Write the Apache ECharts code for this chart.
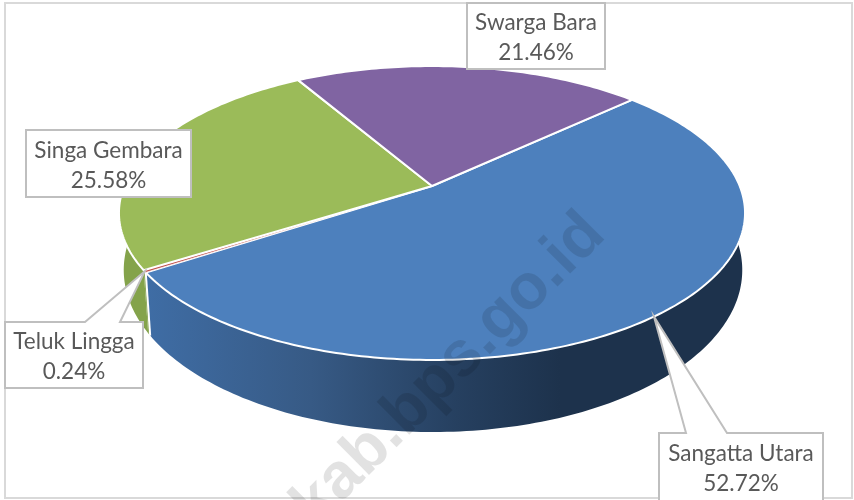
<!DOCTYPE html>
<html><head><meta charset="utf-8">
<style>html,body{margin:0;padding:0;background:#fff}#c{width:854px;height:500px}</style>
<script src="https://cdn.jsdelivr.net/npm/echarts@6/dist/echarts.min.js"></script>
</head><body><div id="c"></div>
<script>
var regions = ['Sangatta Utara', 'Teluk Lingga', 'Singa Gembara', 'Swarga Bara'];
var shares = [52.72, 0.24, 25.58, 21.46];
var topColors = ['#4d80bd', '#c0504d', '#9bbb59', '#8064a2'];
var wallColors = ['#3f6da5', '#84a34b', '#84a34b', '#6b5488'];
var boxes = [
  [659, 433, 823, 506, 686, 727],
  [5, 322, 143, 388, 85, 120],
  [26, 130, 191, 197, null, null],
  [467, 3, 605, 69, null, null]
];
var START_DEG = 47;
var k = 0.1837;
var topPlane = {cx: 432, cy: 186, a: 307.7, b: 142};
var botPlane = {cx: 433, cy: 240.3, a: 304, b: 156.5};

function project(deg, p) {
  var t = deg * Math.PI / 180, X = Math.sin(t), Y = -Math.cos(t), w = 1 - k * Y;
  return [p.cx + p.a * X / w, p.cy + p.b * Y / w];
}
function arc(from, to, p) {
  var pts = [], n = Math.max(2, Math.ceil(Math.abs(to - from)));
  for (var i = 0; i <= n; i++) pts.push(project(from + (to - from) * i / n, p));
  return pts;
}
function range(i) {
  var s = START_DEG;
  for (var j = 0; j < i; j++) s += shares[j] * 3.6;
  return [s, s + shares[i] * 3.6];
}
var blueWall = new echarts.graphic.LinearGradient(145, 0, 560, 0, [
  {offset: 0, color: '#3f6da5'},
  {offset: 0.4, color: '#375a85'},
  {offset: 0.75, color: '#264060'},
  {offset: 1, color: '#1d324c'}
], true);

var data = regions.map(function (r, i) { return {name: r, value: shares[i]}; });

var option = {
  animation: false,
  backgroundColor: '#fff',
  graphic: [
    {type: 'rect', z: 0, shape: {x: 5, y: 3, width: 847, height: 495}, style: {fill: 'none', stroke: '#d9d9d9', lineWidth: 2}},
    {type: 'text', z: 100, x: 449, y: 370, rotation: 45 * Math.PI / 180,
     style: {text: 'kab.bps.go.id', x: 0, y: 0, align: 'center', verticalAlign: 'middle',
             font: 'bold 64px "Liberation Sans"', fill: 'rgba(0,0,0,0.115)'}}
  ],
  series: [
    {type: 'custom', coordinateSystem: 'none', z: 2, data: data, renderItem: function (params, api) {
      var i = params.dataIndex, order = [3, 2, 1, 0], d = order[i], r = range(d);
      var pts = arc(r[0], r[1], topPlane).concat(arc(r[1], r[0], botPlane));
      var children = [{type: 'polygon', shape: {points: pts},
        style: {fill: d === 0 ? blueWall : wallColors[d], stroke: null}}];
      if (d === 0) children.push({type: 'line',
        shape: {x1: project(r[1], topPlane)[0], y1: project(r[1], topPlane)[1], x2: project(r[1], botPlane)[0], y2: project(r[1], botPlane)[1]},
        style: {stroke: '#fff', lineWidth: 2}});
      return {type: 'group', children: children};
    }},
    {type: 'custom', coordinateSystem: 'none', z: 3, data: data, renderItem: function (params, api) {
      var r = range(params.dataIndex);
      var pts = [[topPlane.cx, topPlane.cy]].concat(arc(r[0], r[1], topPlane));
      return {type: 'polygon', shape: {points: pts},
        style: {fill: topColors[params.dataIndex], stroke: '#fff', lineWidth: params.dataIndex === 1 ? 0.8 : 2, lineJoin: 'round'}};
    }},
    {type: 'custom', coordinateSystem: 'none', z: 4, data: data, renderItem: function (params, api) {
      var i = params.dataIndex, b = boxes[i], r = range(i), tip = project((r[0] + r[1]) / 2, topPlane);
      var pts = b[4] === null
        ? [[b[0], b[1]], [b[2], b[1]], [b[2], b[3]], [b[0], b[3]]]
        : [[b[0], b[1]], [b[4], b[1]], tip, [b[5], b[1]], [b[2], b[1]], [b[2], b[3]], [b[0], b[3]]];
      var cy = (i === 0 ? 467 : (b[1] + b[3]) / 2) + 2;
      return {type: 'group', children: [
        {type: 'polygon', shape: {points: pts}, style: {fill: '#fff', stroke: '#bfbfbf', lineWidth: 2}},
        {type: 'text', style: {text: regions[i] + '\n' + shares[i].toFixed(2) + '%', x: (b[0] + b[2]) / 2, y: cy,
          align: 'center', verticalAlign: 'middle', lineHeight: 30, font: '22.5px Lato', fill: '#595959'}}
      ]};
    }}
  ]
};
var chart = echarts.init(document.getElementById('c'), null, {renderer: 'canvas', width: 854, height: 500});
chart.setOption(option);
</script></body></html>
